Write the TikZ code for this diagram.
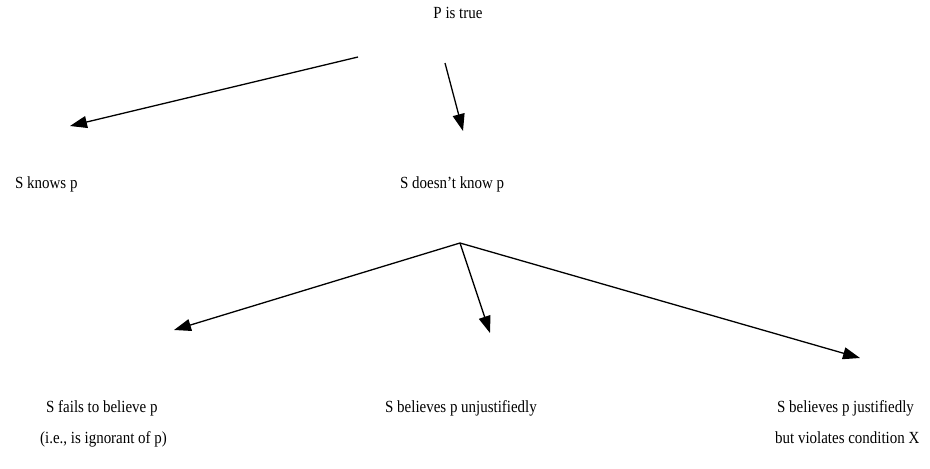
\documentclass[tikz,border=0pt]{standalone}
\usepackage{fontspec}
\setmainfont[FakeStretch=0.88]{Liberation Serif}
\usetikzlibrary{arrows.meta}

\begin{document}
\begin{tikzpicture}[x=1pt,y=-1pt,
    every node/.style={font=\fontsize{17}{20}\selectfont, inner sep=0pt, anchor=base west},
    branch/.style={line width=1.3pt, -{Triangle[length=17pt,width=12pt]}}]
    \useasboundingbox (0,0) rectangle (930,469);
    % the three levels of cases
    \node[anchor=base] (ptrue) at (458,18) {P is true};
    \node (knows) at (15,188) {S knows p};
    \node (notknow) at (400,188) {S doesn’t know p};
    \node (fails) at (46,412) {S fails to believe p};
    \node (ignorant) at (40,443) {(i.e., is ignorant of p)};
    \node (unjust) at (385,412) {S believes p unjustifiedly};
    \node (just) at (777,412) {S believes p justifiedly};
    \node (violates) at (775,443) {but violates condition X};
    % free ends of the arrows
    \coordinate (top l) at (358,57);
    \coordinate (top r) at (445,63);
    \coordinate (knows tip) at (70,126);
    \coordinate (notknow tip) at (463,131);
    \coordinate (fork) at (460,243);
    \coordinate (fails tip) at (174,330);
    \coordinate (unjust tip) at (490,333);
    \coordinate (just tip) at (860,358);
    \draw[branch] (top l) -- (knows tip);
    \draw[branch] (top r) -- (notknow tip);
    \draw[branch] (fork) -- (fails tip);
    \draw[branch] (fork) -- (unjust tip);
    \draw[branch] (fork) -- (just tip);
\end{tikzpicture}
\end{document}
